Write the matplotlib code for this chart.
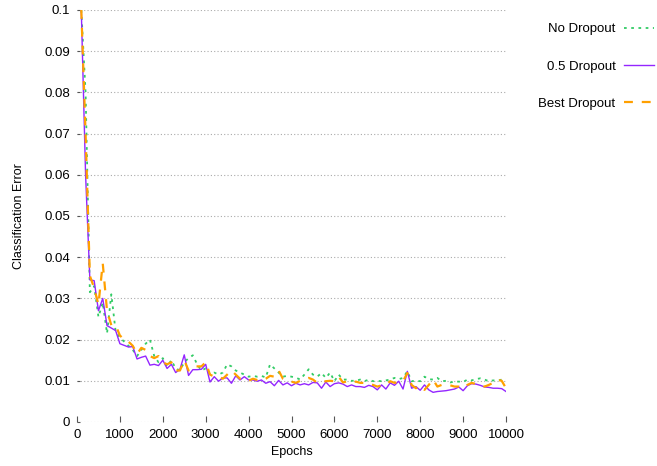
import numpy as np
import matplotlib
matplotlib.use("Agg")
import matplotlib.pyplot as plt

plt.rcParams["font.family"] = ["Liberation Sans", "DejaVu Sans"]

epochs = np.arange(100, 10001, 100)

no_dropout = [
    0.1, 0.080, 0.0315, 0.033, 0.0255, 0.029, 0.0215, 0.031, 0.022, 0.0205,
    0.0195, 0.0185, 0.0175, 0.0160, 0.0175, 0.019, 0.020, 0.016, 0.0145, 0.0155,
    0.0135, 0.015, 0.013, 0.0125, 0.0145, 0.0155, 0.0162, 0.014, 0.0125, 0.013,
    0.0115, 0.012, 0.0115, 0.012, 0.014, 0.0135, 0.0125, 0.012, 0.0115, 0.011,
    0.0112, 0.011, 0.0112, 0.0108, 0.014, 0.013, 0.012, 0.011, 0.0112, 0.011,
    0.0108, 0.0103, 0.0115, 0.0128, 0.0115, 0.011, 0.0119, 0.0107, 0.012, 0.0099,
    0.0115, 0.0103, 0.0103, 0.010, 0.010, 0.0103, 0.0099, 0.0103, 0.0099, 0.010,
    0.0099, 0.0101, 0.0103, 0.0107, 0.0104, 0.0107, 0.0123, 0.0099, 0.010, 0.0099,
    0.011, 0.0104, 0.0103, 0.0107, 0.0099, 0.010, 0.0096, 0.0098, 0.0098, 0.0097,
    0.0103, 0.0101, 0.0104, 0.0106, 0.0103, 0.0099, 0.0101, 0.010, 0.0103, 0.0104,
]

half_dropout = [
    0.1, 0.060, 0.0345, 0.0343, 0.027, 0.030, 0.0234, 0.0228, 0.0222, 0.019,
    0.0186, 0.0182, 0.0183, 0.0153, 0.0157, 0.016, 0.0138, 0.014, 0.0137, 0.015,
    0.013, 0.014, 0.012, 0.0128, 0.0163, 0.0113, 0.0127, 0.0127, 0.0128, 0.014,
    0.0097, 0.011, 0.0099, 0.0107, 0.0107, 0.0094, 0.0112, 0.0102, 0.011, 0.0102,
    0.0102, 0.0099, 0.0102, 0.0094, 0.0098, 0.0088, 0.0101, 0.009, 0.0095, 0.0088,
    0.0094, 0.0090, 0.0093, 0.0090, 0.0096, 0.0095, 0.0082, 0.0097, 0.0086, 0.0093,
    0.0095, 0.0092, 0.0086, 0.009, 0.0086, 0.0086, 0.0084, 0.0089, 0.0086, 0.0078,
    0.009, 0.008, 0.0095, 0.0089, 0.0099, 0.008, 0.0123, 0.0082, 0.0086, 0.0077,
    0.009, 0.0078, 0.0072, 0.0074, 0.0075, 0.0076, 0.0078, 0.0080, 0.0085, 0.0076,
    0.0088, 0.0093, 0.0092, 0.0089, 0.0085, 0.0084, 0.0082, 0.0082, 0.0081, 0.0074,
]

best_dropout = [
    0.1, 0.070, 0.0355, 0.0325, 0.0285, 0.0385, 0.027, 0.0235, 0.0235, 0.021,
    0.020, 0.0195, 0.0185, 0.0165, 0.018, 0.0175, 0.016, 0.0155, 0.016, 0.0145,
    0.014, 0.0145, 0.0125, 0.0125, 0.015, 0.0125, 0.0135, 0.0135, 0.0135, 0.0145,
    0.0115, 0.011, 0.011, 0.0105, 0.0115, 0.0125, 0.0115, 0.0105, 0.0105, 0.010,
    0.0105, 0.0102, 0.010, 0.0105, 0.0112, 0.011, 0.0125, 0.0105, 0.010, 0.0098,
    0.0095, 0.010, 0.0104, 0.0107, 0.0103, 0.0095, 0.0096, 0.0099, 0.010, 0.0099,
    0.011, 0.0096, 0.0099, 0.0096, 0.0098, 0.0095, 0.0095, 0.0093, 0.009, 0.0086,
    0.0089, 0.009, 0.0099, 0.0095, 0.0097, 0.0099, 0.0119, 0.009, 0.0082, 0.0088,
    0.0078, 0.009, 0.0103, 0.0086, 0.009, 0.009, 0.0089, 0.0086, 0.0086, 0.0082,
    0.009, 0.0095, 0.0092, 0.009, 0.0086, 0.009, 0.0095, 0.0103, 0.010, 0.0082,
]

labels = ["No Dropout", "0.5 Dropout", "Best Dropout"]
colors = ["#33cc66", "#9426ff", "#ffa000"]

fig = plt.figure(figsize=(6.57, 4.66), dpi=100)
ax = fig.add_axes([77 / 657, 1 - 422 / 466, (506 - 77) / 657, (422 - 10) / 466])

ax.plot(epochs, no_dropout, color=colors[0], lw=1.3, ls=(0, (1.5, 2.5)), label=labels[0])
ax.plot(epochs, half_dropout, color=colors[1], lw=1.0, ls="-", label=labels[1])
ax.plot(epochs, best_dropout, color=colors[2], lw=1.6, ls=(0, (4, 4)), label=labels[2])

ax.set_xlim(0, 10000)
ax.set_ylim(0, 0.1)
ax.set_xticks(np.arange(0, 10001, 1000))
ax.set_yticks(np.arange(0, 0.1001, 0.01))
ax.set_yticklabels(["0", "0.01", "0.02", "0.03", "0.04", "0.05", "0.06",
                    "0.07", "0.08", "0.09", "0.1"])
ax.yaxis.grid(True, color="#aaaaaa", ls=(0, (1, 2)), lw=0.8)
for s in ax.spines.values():
    s.set_visible(False)
ax.tick_params(direction="in", length=4, width=0.8, color="#555555",
               labelsize=9.5, pad=5)
ax.tick_params(axis="y", length=2)

ax.set_xlabel("Epochs", fontsize=9)
ax.set_ylabel("Classification Error", fontsize=9, labelpad=14)

ax.legend(loc="upper left", bbox_to_anchor=(1.048, 0.997), frameon=False,
          fontsize=9.5, markerfirst=False, handlelength=2.3,
          labelspacing=1.9, handletextpad=0.6)

plt.savefig("out.png", dpi=100)
